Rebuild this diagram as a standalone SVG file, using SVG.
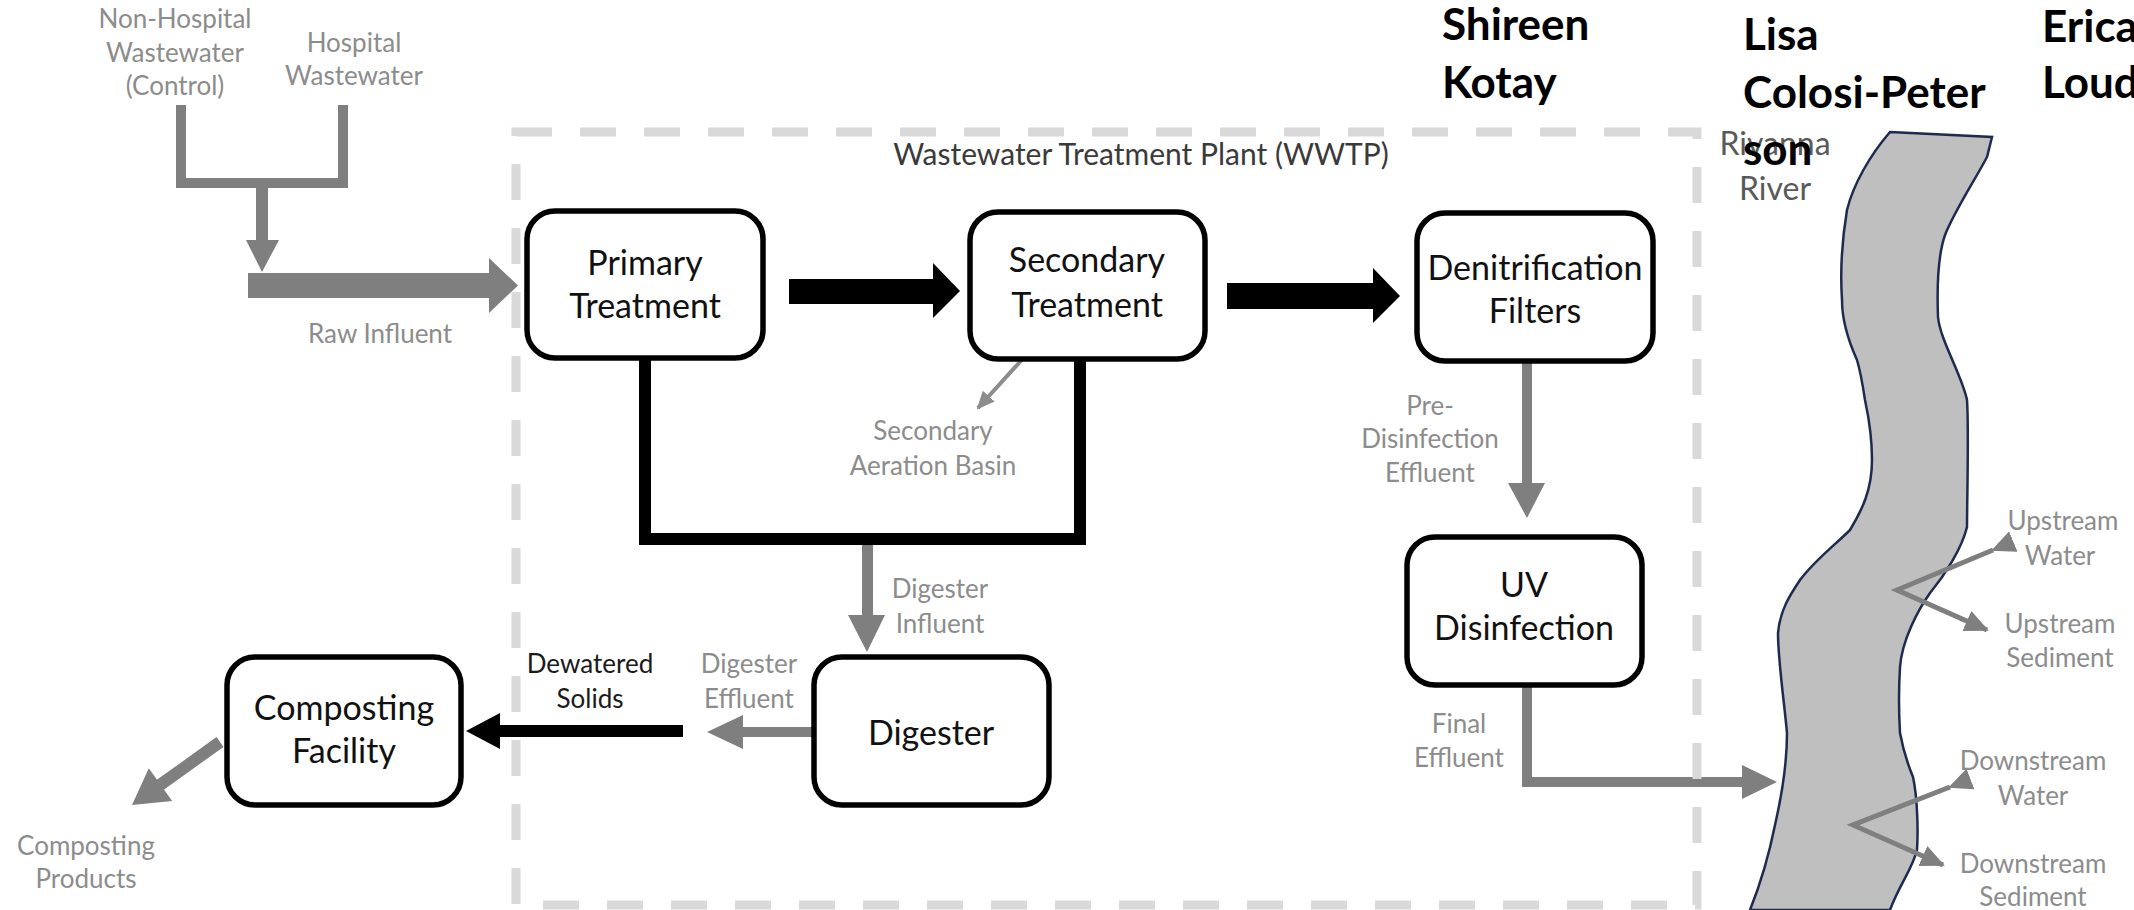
<svg xmlns="http://www.w3.org/2000/svg" width="2134" height="910" viewBox="0 0 2134 910">
<defs>
<style>
.box{fill:#fff;stroke:#000;stroke-width:5.5}
.bt{font-family:Lato,"Liberation Sans",sans-serif;font-size:34px;fill:#111;text-anchor:middle}
.gl{font-family:Lato,"Liberation Sans",sans-serif;font-size:26px;fill:#8c8c8c;text-anchor:middle}
.dl{font-family:Lato,"Liberation Sans",sans-serif;font-size:26px;fill:#1a1a1a;text-anchor:middle}
.nm{font-family:Lato,"Liberation Sans",sans-serif;font-size:44px;font-weight:bold;fill:#000}
.ga{fill:#7f7f7f}
.ba{fill:#000}
.gline{stroke:#7f7f7f;fill:none}
</style>
<marker id="ah" markerUnits="userSpaceOnUse" markerWidth="24" markerHeight="22" refX="22" refY="11" orient="auto">
<path d="M0,0 L24,11 L0,22 Z" fill="#7f7f7f"/>
</marker>
<marker id="ahs" markerUnits="userSpaceOnUse" markerWidth="18" markerHeight="16" refX="16" refY="8" orient="auto">
<path d="M0,0 L18,8 L0,16 Z" fill="#8c8c8c"/>
</marker>
</defs>
<rect width="2134" height="910" fill="#fff"/>

<g id="river">
<path d="M1890,132 L1992,137 L1987,157 C1975,180 1955,210 1945,235 C1937,258 1937,290 1938,317 C1940,340 1962,375 1967,400 C1969,430 1967,500 1967,527 C1962,548 1945,575 1930,593 C1918,610 1902,640 1900,667 C1898,700 1900,733 1900,733 C1904,755 1913,777 1913,777 C1918,800 1918,835 1917,850 C1912,870 1900,883 1890,910 L1750,910 C1762,880 1770,850 1775,825 C1783,790 1787,760 1787,733 C1784,700 1778,660 1778,633 C1780,610 1790,595 1800,580 C1815,560 1835,545 1850,530 C1862,510 1872,490 1872,460 C1872,430 1866,405 1865,400 C1862,380 1860,370 1857,360 C1848,340 1842,320 1842,300 C1840,270 1842,240 1847,210 C1853,185 1870,155 1890,132 Z" fill="#bfbfbf" stroke="#1f2a4f" stroke-width="2.5"/>
</g>

<g id="connectors">
<path d="M181,105 V183 H343 V105" stroke="#7f7f7f" stroke-width="10" fill="none"/>
<polygon class="ga" points="256,183 268,183 268,240 279,240 262,272 246,240 256,240"/>
<polygon class="ga" points="248,273 489,273 489,258 518,285.5 489,313 489,298 248,298"/>
<polygon class="ba" points="789,279 933,279 933,263 960,291 933,318 933,304 789,304"/>
<polygon class="ba" points="1227,283 1373,283 1373,268 1400,296 1373,323 1373,309 1227,309"/>
<line x1="1038" y1="342" x2="978" y2="408" stroke="#8c8c8c" stroke-width="4" marker-end="url(#ahs)"/>
<path d="M645,358 V539 H1080 V360" stroke="#000" stroke-width="12" fill="none"/>
<polygon class="ga" points="862,545 873,545 873,615 885,615 867,652 848,615 862,615"/>
<polygon class="ga" points="816,727 743,727 743,715 707,732 743,749 743,737 816,737"/>
<polygon class="ba" points="683,725 500,725 500,713 466,731 500,749 500,737 683,737"/>
<line x1="220" y1="742" x2="160" y2="785" stroke="#7f7f7f" stroke-width="12"/>
<polygon class="ga" points="132,805 148.8,768.3 172.2,800.9"/>
<polygon class="ga" points="1522,361 1532,361 1532,483 1545,483 1527,518 1508,483 1522,483"/>
<polygon class="ga" points="1522,685 1532,685 1532,777 1742,777 1742,765 1777,782 1742,799 1742,787 1522,787"/>
<polyline points="1993,550 1897,590 1987,630" class="gline" stroke-width="5" marker-start="url(#ah)" marker-end="url(#ah)"/>
<polyline points="1950,787 1853,825 1943,865" class="gline" stroke-width="5" marker-start="url(#ah)" marker-end="url(#ah)"/>
</g>

<g id="wwtp">
<rect x="516" y="132" width="1181" height="773" fill="none" stroke="#d9d9d9" stroke-width="9" stroke-dasharray="36 28"/>
<text x="1141" y="165" font-family="Lato,'Liberation Sans',sans-serif" font-size="30" fill="#3a3a3a" text-anchor="middle">Wastewater Treatment Plant (WWTP)</text>
</g>

<g id="sources">
<text class="gl" x="175" y="28">Non-Hospital</text>
<text class="gl" x="175" y="62">Wastewater</text>
<text class="gl" x="175" y="95">(Control)</text>
<text class="gl" x="354" y="52">Hospital</text>
<text class="gl" x="354" y="85">Wastewater</text>
<text class="gl" x="380" y="343">Raw Influent</text>
</g>

<g id="primary">
<rect class="box" x="527" y="211" width="236" height="147" rx="28"/>
<text class="bt" x="645" y="275">Primary</text>
<text class="bt" x="645" y="318">Treatment</text>
</g>

<g id="secondary">
<rect class="box" x="970" y="212" width="235" height="147" rx="28"/>
<text class="bt" x="1087" y="272">Secondary</text>
<text class="bt" x="1087" y="317">Treatment</text>
<text class="gl" x="933" y="440">Secondary</text>
<text class="gl" x="933" y="475">Aeration Basin</text>
</g>

<g id="denitrification">
<rect class="box" x="1417" y="213" width="236" height="148" rx="28"/>
<text class="bt" x="1535" y="280">Denitrification</text>
<text class="bt" x="1535" y="323">Filters</text>
<text class="gl" x="1430" y="415">Pre-</text>
<text class="gl" x="1430" y="448">Disinfection</text>
<text class="gl" x="1430" y="482">Effluent</text>
</g>

<g id="uv">
<rect class="box" x="1407" y="537" width="235" height="148" rx="28"/>
<text class="bt" x="1524" y="597">UV</text>
<text class="bt" x="1524" y="640">Disinfection</text>
<text class="gl" x="1459" y="733">Final</text>
<text class="gl" x="1459" y="767">Effluent</text>
</g>

<g id="digester">
<rect class="box" x="814" y="657" width="235" height="148" rx="28"/>
<text class="bt" x="931" y="745">Digester</text>
<text class="gl" x="940" y="598">Digester</text>
<text class="gl" x="940" y="633">Influent</text>
<text class="gl" x="749" y="673">Digester</text>
<text class="gl" x="749" y="708">Effluent</text>
<text class="dl" x="590" y="673">Dewatered</text>
<text class="dl" x="590" y="708">Solids</text>
</g>

<g id="composting">
<rect class="box" x="227" y="657" width="234" height="148" rx="28"/>
<text class="bt" x="344" y="720">Composting</text>
<text class="bt" x="344" y="763">Facility</text>
<text class="gl" x="86" y="855">Composting</text>
<text class="gl" x="86" y="888">Products</text>
</g>

<g id="river-labels">
<text x="1775" y="155" font-family="Lato,'Liberation Sans',sans-serif" font-size="32" fill="#5a5a5a" text-anchor="middle">Rivanna</text>
<text x="1775" y="200" font-family="Lato,'Liberation Sans',sans-serif" font-size="32" fill="#5a5a5a" text-anchor="middle">River</text>
<text class="gl" x="2063" y="530">Upstream</text>
<text class="gl" x="2060" y="565">Water</text>
<text class="gl" x="2060" y="633">Upstream</text>
<text class="gl" x="2060" y="667">Sediment</text>
<text class="gl" x="2033" y="770">Downstream</text>
<text class="gl" x="2033" y="805">Water</text>
<text class="gl" x="2033" y="873">Downstream</text>
<text class="gl" x="2033" y="906">Sediment</text>
</g>

<g id="names">
<text class="nm" x="1442" y="40">Shireen</text>
<text class="nm" x="1442" y="98">Kotay</text>
<text class="nm" x="1743" y="50">Lisa</text>
<text class="nm" x="1743" y="108">Colosi-Peter</text>
<text class="nm" x="1743" y="165">son</text>
<text class="nm" x="2042" y="42">Erica</text>
<text class="nm" x="2042" y="98">Loud</text>
</g>
</svg>
